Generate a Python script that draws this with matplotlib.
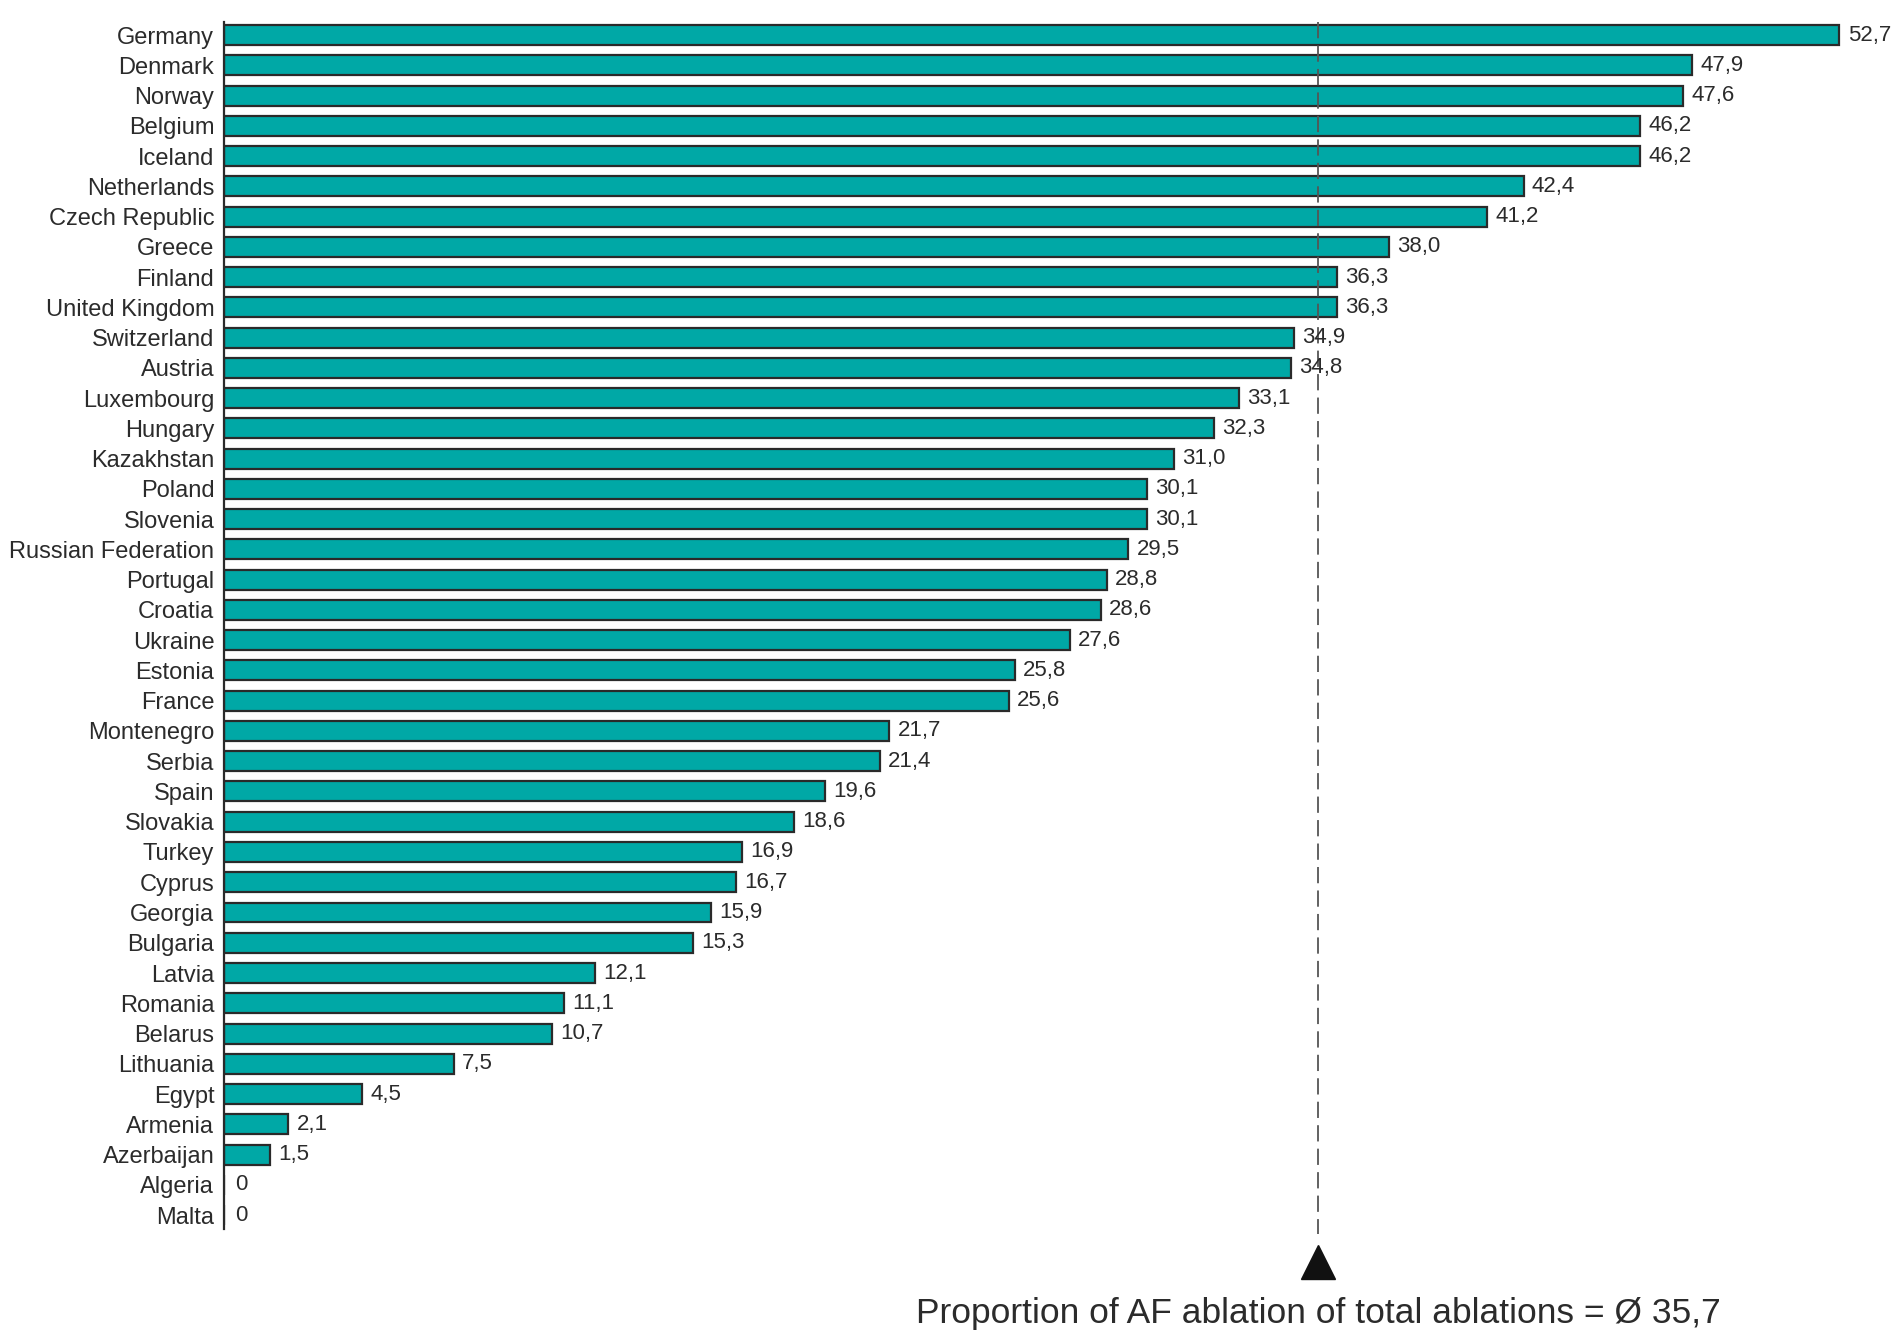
import matplotlib.pyplot as plt

countries = ['Germany', 'Denmark', 'Norway', 'Belgium', 'Iceland', 'Netherlands',
             'Czech Republic', 'Greece', 'Finland', 'United Kingdom', 'Switzerland',
             'Austria', 'Luxembourg', 'Hungary', 'Kazakhstan', 'Poland', 'Slovenia',
             'Russian Federation', 'Portugal', 'Croatia', 'Ukraine', 'Estonia', 'France',
             'Montenegro', 'Serbia', 'Spain', 'Slovakia', 'Turkey', 'Cyprus', 'Georgia',
             'Bulgaria', 'Latvia', 'Romania', 'Belarus', 'Lithuania', 'Egypt', 'Armenia',
             'Azerbaijan', 'Algeria', 'Malta']
share = [52.7, 47.9, 47.6, 46.2, 46.2, 42.4, 41.2, 38.0, 36.3, 36.3, 34.9, 34.8,
         33.1, 32.3, 31.0, 30.1, 30.1, 29.5, 28.8, 28.6, 27.6, 25.8, 25.6, 21.7,
         21.4, 19.6, 18.6, 16.9, 16.7, 15.9, 15.3, 12.1, 11.1, 10.7, 7.5, 4.5,
         2.1, 1.5, 0, 0]
mean_share = 35.7

plt.rcParams['font.family'] = ['Liberation Sans', 'DejaVu Sans']

fig = plt.figure(figsize=(19.03, 13.32), dpi=100)
ax = fig.add_axes([224 / 1903, 103 / 1332, 1679 / 1903, 1207 / 1332])

pos = list(range(len(countries)))
ax.barh(pos, share, height=0.66, color='#00A8A6', edgecolor='#2a2a2a', linewidth=1.6)

ax.set_xlim(0, 1679 / 30.65)
ax.set_ylim(39.46, -0.43)
ax.set_yticks(pos)
ax.set_yticklabels(countries, fontsize=17, color='#2b2b2b')
ax.tick_params(axis='y', length=0, pad=7)
ax.set_xticks([])
for s in ['top', 'right', 'bottom']:
    ax.spines[s].set_visible(False)
ax.spines['left'].set_linewidth(1.6)
ax.spines['left'].set_color('#2a2a2a')

# value labels with decimal comma
for y, v in zip(pos, share):
    lab = '0' if v == 0 else f'{v:.1f}'.replace('.', ',')
    ax.annotate(lab, (v, y), xytext=(6 if v else 8, 0), textcoords='offset points',
                va='center', ha='left', fontsize=16, color='#2b2b2b')

# mean line with arrow head and caption below
ax.plot([mean_share, mean_share], [-0.43, 39.63], color='#555555', lw=1.3,
        linestyle=(0, (9, 4)), clip_on=False)
ax.plot([mean_share], [40.54], marker='^', markersize=24, color='#111111',
        clip_on=False)
ax.text(mean_share, 42.24, 'Proportion of AF ablation of total ablations = Ø 35,7',
        ha='center', va='center', fontsize=25.5, color='#2b2b2b', clip_on=False)

fig.savefig('out.png', dpi=100)
